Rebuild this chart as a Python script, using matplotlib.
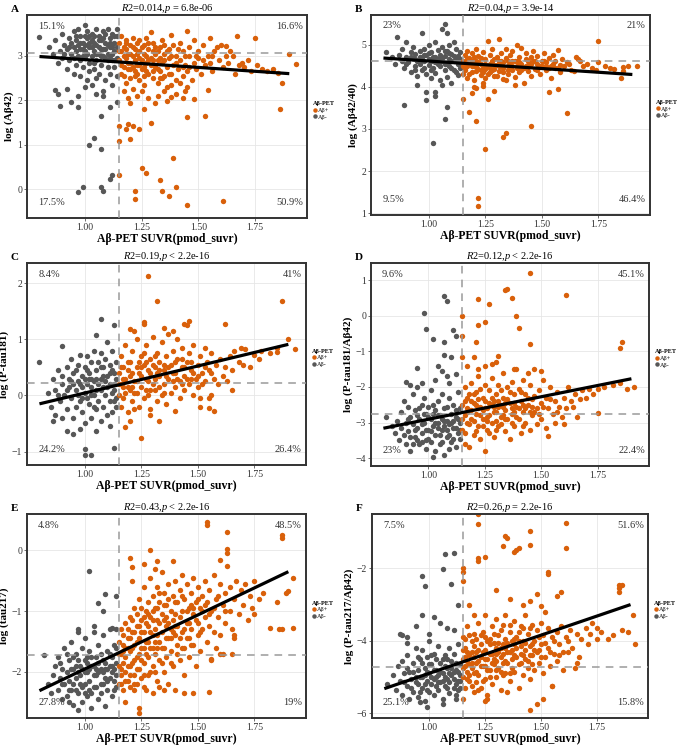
import numpy as np
import matplotlib
matplotlib.use("Agg")
import matplotlib.pyplot as plt
from matplotlib.lines import Line2D

plt.rcParams['font.family'] = ['Liberation Serif', 'DejaVu Serif']
plt.rcParams['mathtext.fontset'] = 'custom'
plt.rcParams['mathtext.rm'] = 'Liberation Serif'
plt.rcParams['mathtext.it'] = 'Liberation Serif:italic'

# ---------------- data ----------------
A_neg = [(0.80,3.43),(0.84,3.2),(0.86,3.05),(0.87,3.35),(0.88,2.85),(0.89,3.1),(0.90,3.5),(0.90,2.95),(0.91,3.25),(0.92,2.7),(0.92,3.15),(0.93,3.4),(0.93,2.9),(0.94,3.05),(0.95,3.55),(0.95,2.6),(0.95,3.2),(0.96,2.8),(0.96,3.35),(0.97,3.0),(0.97,3.6),(0.98,2.55),(0.98,3.15),(0.98,3.45),(0.99,2.75),(0.99,3.3),(1.00,3.7),(1.00,2.95),(1.00,3.1),(1.01,2.45),(1.01,3.4),(1.01,3.55),(1.02,2.65),(1.02,3.2),(1.02,2.85),(1.03,3.0),(1.03,3.5),(1.03,2.35),(1.04,3.3),(1.04,2.7),(1.04,3.1),(1.05,2.5),(1.05,3.6),(1.05,2.9),(1.06,3.2),(1.06,3.45),(1.06,2.6),(1.07,3.0),(1.07,2.8),(1.07,3.35),(1.08,2.2),(1.08,3.15),(1.08,3.55),(1.09,2.95),(1.09,2.45),(1.09,3.3),(1.10,2.75),(1.10,3.6),(1.10,3.05),(1.11,3.4),(1.11,2.6),(1.11,3.2),(1.12,2.9),(1.12,3.5),(1.12,2.35),(1.13,3.1),(1.13,2.75),(1.13,3.3),(1.14,2.95),(1.14,3.45),(1.14,2.55),(1.14,3.6),(1.00,3.25),(0.97,3.25),(1.03,3.35),(1.06,3.05),(1.09,3.15),(1.12,3.05),(0.94,3.3),(0.99,3.0),(1.02,3.45),(1.05,3.25),(1.08,3.4),(1.11,3.0),(1.13,2.9),(0.96,3.1),
         (0.91,3.05),(0.93,3.2),(0.95,2.95),(0.96,3.45),(0.98,3.3),(0.99,3.15),(1.00,3.45),(1.01,3.05),(1.02,3.3),(1.03,3.2),(1.04,3.45),(1.05,3.05),(1.06,3.35),(1.07,3.15),(1.08,3.0),(1.09,3.5),(1.10,3.25),(1.11,3.3),(1.12,3.2),(1.13,3.45),(1.14,3.2),(1.10,2.9),(1.04,2.85),(0.98,2.9),
         (0.87,2.23),(0.88,2.14),(0.89,1.87),(0.92,2.25),(0.94,1.97),(0.97,1.86),(0.97,2.1),(1.00,2.3),(1.02,1.0),(1.04,1.14),(1.07,1.65),(1.07,0.9),(0.97,-0.07),(0.99,0.04),(1.07,0.05),(1.08,-0.05),(1.11,0.22),(1.12,0.31),(1.14,1.97),(1.08,2.1),(1.05,2.15),(1.11,1.85)]
A_pos = [(1.15,3.3),(1.15,2.9),(1.16,3.1),(1.16,2.6),(1.16,3.45),(1.17,2.75),(1.17,3.2),(1.18,2.95),(1.18,2.4),(1.18,3.35),(1.19,3.05),(1.19,2.7),(1.20,3.25),(1.20,2.5),(1.20,2.85),(1.21,3.4),(1.21,3.0),(1.22,2.65),(1.22,3.15),(1.23,2.8),(1.23,3.3),(1.24,2.45),(1.24,2.95),(1.25,3.2),(1.25,2.7),(1.26,3.05),(1.26,2.35),(1.27,3.4),(1.27,2.85),(1.28,2.6),(1.28,3.15),(1.29,2.95),(1.29,3.53),(1.30,2.5),(1.30,3.3),(1.31,2.75),(1.31,3.05),(1.32,2.4),(1.32,2.9),(1.33,3.2),(1.33,2.65),(1.34,3.35),(1.34,2.85),(1.35,2.55),(1.35,3.05),(1.36,2.3),(1.36,2.75),(1.37,3.15),(1.37,2.95),(1.38,2.6),(1.38,3.47),(1.39,2.8),(1.39,3.25),(1.40,2.45),(1.40,3.0),(1.41,2.7),(1.42,3.3),(1.42,2.9),(1.43,2.55),(1.43,3.1),(1.44,2.8),(1.45,3.56),(1.45,2.65),(1.46,3.0),(1.46,3.2),(1.47,2.45),(1.48,2.85),(1.48,3.35),(1.49,2.7),(1.50,3.1),(1.50,2.95),(1.51,2.6),(1.52,3.25),(1.53,2.8),(1.54,3.0),(1.55,2.85),(1.55,3.4),(1.56,2.65),(1.57,3.1),(1.58,3.2),(1.59,2.9),(1.60,3.25),(1.61,2.75),(1.62,3.0),(1.62,3.22),(1.63,2.85),(1.64,3.1),(1.65,3.0),(1.66,2.6),(1.67,3.44),(1.68,2.8),(1.69,2.85),(1.70,2.75),(1.72,2.9),(1.73,2.65),(1.75,3.4),(1.76,2.8),(1.78,2.7),(1.80,2.65),(1.83,2.7),(1.85,2.62),(1.87,2.4),(1.86,1.81),(1.90,3.05),(1.93,2.81),(1.17,3.0),(1.19,2.85),(1.21,2.75),(1.23,3.05),(1.25,2.9),(1.27,3.0),(1.29,2.8),(1.31,3.2),(1.33,2.95),(1.35,2.9),(1.24,3.35),(1.22,2.55),(1.26,2.55),(1.30,2.65),(1.34,2.5),(1.38,2.35),(1.42,2.4),(1.45,2.3),(1.16,2.8),(1.18,3.15),(1.20,3.05),(1.22,2.9),(1.24,3.1),(1.26,2.75),(1.28,2.9),(1.30,3.1),(1.32,2.7),(1.36,3.1),(1.40,2.85),(1.44,3.0),
         (1.15,3.1),(1.17,2.55),(1.18,3.3),(1.20,2.7),(1.21,3.2),(1.23,2.6),(1.24,2.8),(1.26,3.25),(1.27,2.65),(1.28,3.3),(1.30,2.9),(1.32,3.1),(1.33,2.5),(1.35,3.25),(1.37,2.6),(1.38,3.0),(1.41,3.15),(1.43,2.75),(1.46,2.75),(1.49,3.0),(1.52,2.9),(1.56,3.0),
         (1.15,1.41),(1.15,1.09),(1.15,0.31),(1.18,1.35),(1.19,1.47),(1.20,1.12),(1.21,1.41),(1.24,1.35),(1.22,-0.04),(1.22,-0.23),(1.25,0.47),(1.27,0.37),(1.26,1.81),(1.29,1.48),(1.33,0.2),(1.34,-0.04),(1.37,-0.16),(1.39,0.7),(1.40,0.05),(1.45,-0.36),(1.61,-0.26),(1.45,1.62),(1.53,1.65),(1.48,2.04),(1.54,2.23),(1.20,1.93),(1.21,2.25),(1.23,2.1),(1.25,2.2),(1.28,2.05),(1.31,1.95),(1.32,2.1),(1.35,2.2),(1.36,1.98),(1.38,2.08),(1.40,2.15),(1.43,2.05),(1.44,2.2),(1.17,2.2),(1.19,2.05)]

B_neg = [(0.81,4.82),(0.84,4.7),(0.85,4.55),(0.86,5.18),(0.87,4.75),(0.88,4.62),(0.88,4.9),(0.89,4.45),(0.90,4.7),(0.90,5.05),(0.91,4.58),(0.92,4.82),(0.92,4.35),(0.93,4.68),(0.93,4.95),(0.94,4.5),(0.94,4.78),(0.95,4.62),(0.95,4.25),(0.96,4.85),(0.96,4.55),(0.97,5.28),(0.97,4.7),(0.97,4.4),(0.98,4.9),(0.98,4.6),(0.99,4.3),(0.99,4.75),(1.00,4.52),(1.00,4.98),(1.00,4.65),(1.01,4.2),(1.01,4.82),(1.02,4.45),(1.02,4.7),(1.03,5.05),(1.03,4.58),(1.03,4.32),(1.04,4.88),(1.04,4.65),(1.05,4.48),(1.05,4.75),(1.05,4.15),(1.06,5.37),(1.06,4.6),(1.06,4.95),(1.07,5.48),(1.07,4.4),(1.07,4.72),(1.08,4.55),(1.08,4.85),(1.08,4.22),(1.09,4.65),(1.09,5.0),(1.10,4.45),(1.10,4.78),(1.10,4.1),(1.11,4.6),(1.11,5.05),(1.12,4.35),(1.12,4.7),(1.12,4.9),(1.13,4.55),(1.13,4.28),(1.14,4.82),(1.14,4.45),(1.14,4.65),(1.08,5.28),(1.01,4.6),(0.96,4.7),(1.04,4.55),(1.09,4.5),(1.12,4.6),(0.98,4.75),(1.02,4.62),(1.06,4.68),(1.11,4.72),(0.94,4.65),
         (0.90,4.55),(0.92,4.7),(0.94,4.4),(0.96,4.6),(0.98,4.45),(1.00,4.8),(1.01,4.4),(1.03,4.7),(1.05,4.6),(1.07,4.55),(1.09,4.8),(1.10,4.62),(1.13,4.72),(1.14,4.55),(1.11,4.4),(1.07,4.85),
         (0.89,3.57),(0.99,3.87),(0.99,3.68),(1.03,3.88),(1.03,3.77),(1.08,3.51),(1.07,3.24),(1.02,2.66),(0.95,4.05),(1.06,4.05)]
B_pos = [(1.15,4.6),(1.15,4.3),(1.16,4.75),(1.16,4.45),(1.17,4.85),(1.17,4.2),(1.18,4.55),(1.18,4.68),(1.19,4.35),(1.19,4.8),(1.20,4.5),(1.20,4.15),(1.21,4.62),(1.21,4.9),(1.22,4.42),(1.22,4.72),(1.23,4.28),(1.23,4.55),(1.24,4.82),(1.24,4.45),(1.25,4.65),(1.25,4.2),(1.26,5.08),(1.26,4.5),(1.27,4.75),(1.27,4.35),(1.28,4.6),(1.28,4.9),(1.29,4.42),(1.29,4.25),(1.30,4.7),(1.30,4.52),(1.31,5.14),(1.31,4.38),(1.32,4.8),(1.32,4.6),(1.33,4.45),(1.33,4.18),(1.34,4.68),(1.34,4.9),(1.35,4.5),(1.35,4.3),(1.36,4.75),(1.36,4.58),(1.37,4.4),(1.37,4.85),(1.38,4.62),(1.38,4.22),(1.39,5.0),(1.39,4.5),(1.40,4.7),(1.40,4.35),(1.41,4.92),(1.41,4.55),(1.42,4.45),(1.42,4.1),(1.43,4.65),(1.43,4.8),(1.44,4.38),(1.44,4.52),(1.45,4.7),(1.45,4.25),(1.46,4.6),(1.46,4.85),(1.47,4.42),(1.48,4.55),(1.48,4.72),(1.49,4.3),(1.50,4.62),(1.50,4.48),(1.51,4.8),(1.52,4.4),(1.52,4.58),(1.53,4.68),(1.54,4.2),(1.54,4.5),(1.55,4.75),(1.56,4.45),(1.56,4.6),(1.57,4.88),(1.58,4.52),(1.58,4.35),(1.59,4.65),(1.60,4.48),(1.61,4.58),(1.62,4.55),(1.63,4.4),(1.64,4.38),(1.65,4.7),(1.66,4.65),(1.67,4.6),(1.68,4.5),(1.70,4.55),(1.72,4.45),(1.74,4.4),(1.75,5.08),(1.75,4.58),(1.78,4.5),(1.80,4.45),(1.82,4.42),(1.85,4.21),(1.86,4.47),(1.86,4.38),(1.88,4.5),(1.92,4.48),(1.17,4.5),(1.19,4.62),(1.21,4.38),(1.23,4.68),(1.25,4.42),(1.27,4.55),(1.29,4.65),(1.31,4.48),(1.33,4.58),(1.35,4.4),(1.37,4.62),(1.39,4.45),(1.26,4.3),(1.30,4.25),(1.34,4.15),(1.38,4.05),(1.24,4.1),(1.16,4.4),(1.18,4.3),(1.20,4.7),(1.22,4.58),(1.24,4.35),(1.28,4.4),(1.32,4.5),(1.36,4.45),(1.40,4.58),(1.44,4.62),(1.48,4.4),(1.52,4.5),
         (1.15,4.5),(1.17,4.65),(1.19,4.5),(1.21,4.48),(1.23,4.4),(1.25,4.55),(1.27,4.45),(1.29,4.52),(1.31,4.6),(1.33,4.35),(1.35,4.62),(1.37,4.5),(1.39,4.6),(1.41,4.4),(1.43,4.5),(1.45,4.55),(1.47,4.6),(1.49,4.5),(1.51,4.6),(1.53,4.45),(1.55,4.55),(1.57,4.45),
         (1.15,3.70),(1.18,3.40),(1.21,3.19),(1.22,1.36),(1.22,1.18),(1.25,2.52),(1.26,3.72),(1.33,2.81),(1.34,2.9),(1.45,3.06),(1.53,3.88),(1.57,3.94),(1.61,3.37),(1.19,3.84),(1.21,3.98),(1.20,4.0),(1.24,4.02),(1.29,3.9)]

C_neg = [(0.80,0.59),(0.84,0.05),(0.85,-0.2),(0.86,0.3),(0.87,-0.35),(0.87,0.1),(0.88,0.45),(0.89,-0.1),(0.90,0.88),(0.90,0.2),(0.90,-0.4),(0.91,0.0),(0.92,0.5),(0.92,-0.25),(0.93,0.3),(0.93,0.15),(0.94,-0.05),(0.94,0.65),(0.95,-0.4),(0.95,0.4),(0.96,0.1),(0.96,-0.2),(0.97,0.55),(0.97,0.25),(0.98,-0.1),(0.98,0.72),(0.99,0.35),(0.99,-0.3),(1.00,0.05),(1.00,0.5),(1.00,-0.5),(1.01,0.2),(1.01,0.7),(1.02,-0.15),(1.02,0.4),(1.03,0.0),(1.03,0.6),(1.03,-0.4),(1.04,0.25),(1.04,0.8),(1.05,-0.25),(1.05,0.45),(1.05,0.1),(1.06,0.6),(1.06,-0.1),(1.07,0.3),(1.07,-0.45),(1.07,0.75),(1.08,0.15),(1.08,-0.2),(1.08,0.5),(1.09,0.0),(1.09,0.65),(1.10,-0.35),(1.10,0.35),(1.10,0.95),(1.11,0.2),(1.11,-0.1),(1.11,0.55),(1.12,0.05),(1.12,0.8),(1.12,-0.3),(1.13,0.4),(1.13,0.1),(1.14,-0.2),(1.14,0.6),(1.14,0.3),(1.14,-0.05),(0.97,0.0),(1.01,-0.05),(1.04,0.0),(1.06,0.2),(1.09,0.25),(1.13,0.2),(1.02,0.3),(0.99,0.15),(0.95,0.2),(1.03,0.15),(1.07,0.1),(1.11,0.4),
         (0.88,0.0),(0.90,0.35),(0.92,0.1),(0.94,0.25),(0.96,0.45),(0.98,0.2),(1.00,0.3),(1.01,0.45),(1.03,0.3),(1.05,0.3),(1.07,0.5),(1.08,0.35),(1.10,0.15),(1.12,0.45),(1.13,-0.1),(1.04,-0.2),(0.99,-0.05),
         (1.07,1.37),(1.13,1.26),(1.05,1.08),(0.92,-0.63),(0.95,-0.68),(1.00,-0.96),(1.00,-1.07),(1.03,-1.07),(1.13,-0.93),(1.05,-0.64),(0.86,-0.45),(0.98,-0.6),(1.11,-0.55)]
C_pos = [(1.15,0.0),(1.15,0.4),(1.16,0.2),(1.16,-0.2),(1.16,0.7),(1.17,0.5),(1.17,-0.05),(1.18,0.3),(1.18,0.9),(1.19,-0.3),(1.19,0.15),(1.20,0.6),(1.20,0.35),(1.21,-0.1),(1.21,0.8),(1.22,0.25),(1.22,0.05),(1.23,0.5),(1.23,1.0),(1.24,-0.2),(1.24,0.4),(1.25,0.7),(1.25,0.15),(1.26,-0.05),(1.26,0.55),(1.27,0.3),(1.27,0.9),(1.28,0.0),(1.28,0.45),(1.29,0.65),(1.29,-0.25),(1.30,0.2),(1.30,1.05),(1.31,0.5),(1.31,0.1),(1.32,0.75),(1.32,-0.1),(1.33,0.35),(1.33,0.6),(1.34,0.0),(1.34,0.95),(1.35,0.45),(1.35,0.2),(1.36,0.7),(1.36,-0.15),(1.37,0.3),(1.37,1.1),(1.38,0.55),(1.38,0.05),(1.39,0.8),(1.40,0.4),(1.40,0.15),(1.41,0.65),(1.41,1.0),(1.42,0.25),(1.42,-0.05),(1.43,0.5),(1.43,0.85),(1.44,0.1),(1.44,0.35),(1.45,0.6),(1.45,1.25),(1.46,0.2),(1.46,0.75),(1.47,0.45),(1.48,0.0),(1.48,0.9),(1.49,0.3),(1.50,0.55),(1.50,0.15),(1.51,0.7),(1.51,-0.05),(1.52,0.4),(1.53,0.85),(1.53,0.25),(1.54,0.6),(1.55,-0.05),(1.55,0.45),(1.56,0.0),(1.56,0.75),(1.57,-0.27),(1.57,0.3),(1.58,0.55),(1.59,0.2),(1.60,0.65),(1.61,0.35),(1.62,1.27),(1.62,0.5),(1.63,0.25),(1.64,0.7),(1.65,0.1),(1.65,0.45),(1.66,0.8),(1.68,0.6),(1.69,0.85),(1.70,0.55),(1.71,0.82),(1.73,0.5),(1.75,0.72),(1.77,0.65),(1.78,0.8),(1.82,0.75),(1.85,0.85),(1.85,0.77),(1.87,1.68),(1.90,1.0),(1.93,0.83),(1.17,0.3),(1.19,0.45),(1.21,0.15),(1.23,0.25),(1.25,0.35),(1.27,0.1),(1.29,0.4),(1.31,0.3),(1.33,0.15),(1.35,0.55),(1.39,0.25),(1.43,0.2),(1.47,0.3),(1.18,0.05),(1.22,-0.25),(1.26,0.75),(1.30,0.55),(1.16,0.5),(1.20,0.1),(1.24,0.6),(1.28,0.25),(1.32,0.4),(1.36,0.35),(1.40,0.6),(1.44,0.5),(1.48,0.4),(1.52,0.2),
         (1.15,0.2),(1.17,0.15),(1.19,0.6),(1.21,0.4),(1.23,0.05),(1.25,0.5),(1.27,0.6),(1.29,0.1),(1.31,0.7),(1.33,0.45),(1.35,0.05),(1.37,0.5),(1.39,0.4),(1.41,0.3),(1.43,0.65),(1.45,0.3),(1.47,0.6),(1.50,0.35),(1.53,0.5),(1.56,0.4),
         (1.28,2.13),(1.32,1.68),(1.26,1.31),(1.26,1.27),(1.20,1.18),(1.22,1.15),(1.46,1.33),(1.44,1.28),(1.25,-0.76),(1.18,-0.57),(1.33,-0.46),(1.40,-0.28),(1.55,-0.23),(1.51,-0.2),(1.20,-0.45),(1.29,-0.35),(1.35,1.2),(1.39,1.15)]

D_neg = [(0.81,-2.85),(0.84,-3.1),(0.85,-3.3),(0.86,-2.95),(0.87,-3.5),(0.88,-2.7),(0.88,-3.15),(0.89,-2.4),(0.90,-3.0),(0.90,-3.6),(0.91,-2.55),(0.91,-3.25),(0.92,-2.85),(0.92,-3.8),(0.93,-2.2),(0.93,-3.05),(0.94,-3.4),(0.94,-2.65),(0.95,-3.15),(0.95,-2.0),(0.96,-2.9),(0.96,-3.6),(0.97,-2.5),(0.97,-3.3),(0.98,-3.0),(0.98,-2.3),(0.99,-3.75),(0.99,-2.75),(1.00,-3.2),(1.00,-2.55),(1.00,-3.45),(1.01,-2.9),(1.01,-2.1),(1.02,-3.1),(1.02,-3.97),(1.03,-2.65),(1.03,-3.35),(1.04,-2.4),(1.04,-3.0),(1.05,-3.6),(1.05,-2.8),(1.06,-3.2),(1.06,-2.2),(1.07,-2.95),(1.07,-3.9),(1.08,-2.55),(1.08,-3.4),(1.09,-3.05),(1.09,-2.3),(1.10,-2.75),(1.10,-3.55),(1.11,-3.15),(1.11,-2.5),(1.12,-2.85),(1.12,-3.7),(1.13,-3.3),(1.13,-2.15),(1.14,-2.6),(1.14,-3.0),(1.14,-3.45),(0.97,-3.05),(1.01,-3.25),(1.04,-3.15),(1.06,-2.9),(1.08,-3.2),(1.11,-2.95),(1.02,-2.75),(0.99,-3.5),(0.93,-3.6),(1.09,-3.75),(0.95,-2.8),(1.03,-3.0),(1.07,-3.1),(1.12,-3.15),
         (0.89,-3.35),(0.91,-2.9),(0.92,-3.4),(0.94,-3.2),(0.95,-3.5),(0.96,-2.6),(0.97,-3.55),(0.98,-2.75),(0.99,-3.2),(1.00,-2.85),(1.01,-3.55),(1.02,-2.5),(1.03,-3.8),(1.04,-2.8),(1.05,-3.35),(1.06,-3.55),(1.07,-2.6),(1.08,-2.95),(1.09,-3.35),(1.10,-3.0),(1.11,-3.45),(1.12,-2.65),(1.13,-2.9),(1.14,-3.2),
         (0.98,0.09),(0.99,-0.36),(1.02,-0.64),(1.07,0.55),(1.08,0.41),(1.11,-0.4),(1.12,-0.57),(1.07,-0.74),(1.07,-1.11),(1.10,-1.17),(0.95,-1.47),(1.04,-1.42),(1.06,-1.55),(1.08,-1.7),(1.09,-1.9),(0.90,-1.85),(0.92,-1.95),(0.97,-1.9),(1.03,-1.8),(1.12,-1.65)]
D_pos = [(1.15,-2.5),(1.15,-3.2),(1.16,-2.0),(1.16,-2.8),(1.16,-3.6),(1.17,-2.3),(1.17,-3.0),(1.18,-2.65),(1.18,-3.7),(1.19,-1.9),(1.19,-2.9),(1.20,-2.45),(1.20,-3.35),(1.21,-2.15),(1.21,-2.75),(1.22,-3.1),(1.22,-1.7),(1.23,-2.55),(1.23,-3.45),(1.24,-2.3),(1.24,-2.9),(1.25,-1.95),(1.25,-3.8),(1.26,-2.6),(1.26,-3.2),(1.27,-2.1),(1.27,-2.8),(1.28,-1.75),(1.28,-3.0),(1.29,-2.4),(1.29,-3.4),(1.30,-2.2),(1.30,-2.7),(1.31,-1.95),(1.31,-3.1),(1.32,-2.5),(1.32,-2.85),(1.33,-1.6),(1.33,-2.3),(1.34,-3.25),(1.34,-2.65),(1.35,-2.0),(1.35,-2.9),(1.36,-2.45),(1.36,-3.45),(1.37,-1.85),(1.37,-2.75),(1.38,-2.2),(1.38,-3.1),(1.39,-1.5),(1.39,-2.55),(1.40,-2.9),(1.40,-2.05),(1.41,-3.3),(1.41,-2.4),(1.42,-1.8),(1.42,-2.7),(1.43,-2.2),(1.43,-3.0),(1.44,-2.5),(1.45,-1.95),(1.45,-3.2),(1.46,-2.35),(1.46,-2.8),(1.47,-1.5),(1.48,-2.6),(1.48,-3.05),(1.49,-2.1),(1.50,-2.45),(1.50,-2.9),(1.51,-1.8),(1.52,-2.3),(1.52,-3.15),(1.53,-2.6),(1.53,-3.38),(1.54,-2.0),(1.55,-2.75),(1.56,-2.4),(1.56,-3.0),(1.57,-2.15),(1.58,-2.55),(1.59,-2.85),(1.60,-2.3),(1.60,-3.05),(1.61,-2.6),(1.62,-2.0),(1.63,-2.4),(1.64,-2.55),(1.65,-2.2),(1.66,-2.84),(1.67,-2.35),(1.68,-2.1),(1.70,-2.3),(1.71,-2.05),(1.73,-2.2),(1.75,-2.72),(1.75,-2.05),(1.78,-2.0),(1.82,-1.95),(1.85,-1.9),(1.88,-2.06),(1.91,-1.99),(1.17,-2.6),(1.19,-2.4),(1.21,-2.5),(1.23,-2.8),(1.25,-2.6),(1.27,-2.45),(1.29,-2.7),(1.31,-2.55),(1.33,-2.8),(1.35,-2.35),(1.37,-2.6),(1.39,-2.85),(1.43,-2.6),(1.47,-2.7),(1.20,-2.95),(1.26,-2.95),(1.32,-3.05),(1.44,-1.6),(1.50,-1.55),(1.16,-2.4),(1.18,-2.2),(1.22,-2.35),(1.24,-2.65),(1.28,-2.5),(1.30,-2.95),(1.34,-2.45),(1.38,-2.7),(1.42,-2.5),(1.46,-2.55),
         (1.15,-2.9),(1.16,-3.3),(1.17,-2.7),(1.18,-3.05),(1.19,-2.65),(1.20,-2.2),(1.21,-3.25),(1.22,-2.6),(1.23,-2.05),(1.24,-3.1),(1.25,-2.4),(1.26,-2.85),(1.27,-3.3),(1.28,-2.3),(1.29,-2.55),(1.30,-3.2),(1.31,-2.4),(1.32,-2.1),(1.33,-2.55),(1.34,-2.9),(1.36,-2.15),(1.37,-3.0),(1.38,-2.45),(1.40,-2.6),(1.41,-2.15),(1.42,-3.1),(1.44,-2.3),(1.45,-2.7),(1.47,-2.25),(1.49,-2.75),(1.51,-2.55),(1.54,-2.35),(1.57,-2.7),
         (1.45,1.19),(1.34,0.72),(1.35,0.74),(1.37,0.5),(1.22,0.46),(1.27,0.32),(1.15,0.0),(1.39,0.0),(1.22,-0.27),(1.25,-0.18),(1.40,-0.34),(1.15,-0.57),(1.15,-1.17),(1.21,-0.74),(1.45,-0.79),(1.61,0.58),(1.86,-0.74),(1.85,-0.92),(1.31,-1.12),(1.30,-1.3),(1.28,-1.35),(1.20,-1.15),(1.22,-1.5),(1.25,-1.4),(1.38,-1.5),(1.17,-1.4)]

E_neg = [(0.82,-1.72),(0.84,-2.2),(0.85,-2.35),(0.86,-2.05),(0.87,-1.9),(0.88,-2.3),(0.88,-1.75),(0.89,-2.1),(0.90,-2.45),(0.90,-1.95),(0.91,-1.6),(0.91,-2.2),(0.92,-2.0),(0.92,-2.4),(0.93,-1.8),(0.93,-2.15),(0.94,-1.5),(0.94,-2.3),(0.95,-1.95),(0.95,-2.55),(0.96,-1.7),(0.96,-2.1),(0.97,-1.35),(0.97,-2.35),(0.98,-1.9),(0.98,-2.05),(0.99,-1.6),(0.99,-2.5),(1.00,-2.2),(1.00,-1.8),(1.00,-1.45),(1.01,-2.0),(1.01,-2.4),(1.02,-1.65),(1.02,-2.15),(1.03,-1.9),(1.03,-2.6),(1.04,-1.35),(1.04,-2.25),(1.05,-1.75),(1.05,-2.05),(1.06,-1.55),(1.06,-2.45),(1.07,-1.95),(1.07,-2.2),(1.08,-1.4),(1.08,-1.8),(1.09,-2.1),(1.09,-2.57),(1.10,-1.65),(1.10,-2.3),(1.11,-1.9),(1.11,-1.3),(1.12,-2.0),(1.12,-2.4),(1.13,-1.55),(1.13,-2.15),(1.14,-1.85),(1.14,-1.3),(1.14,-2.25),(0.97,-2.0),(1.00,-2.0),(1.02,-1.95),(1.04,-2.05),(1.06,-1.85),(1.08,-2.0),(1.10,-1.95),(1.12,-1.75),(0.95,-2.2),(0.99,-2.25),(1.03,-2.35),(1.07,-2.35),(1.11,-2.1),(0.93,-2.5),(0.97,-2.62),(0.96,-1.9),(1.01,-1.75),(1.05,-1.95),(1.09,-1.85),(1.13,-1.95),
         (0.89,-1.85),(0.90,-2.2),(0.92,-1.7),(0.93,-2.3),(0.94,-1.95),(0.95,-1.75),(0.96,-2.3),(0.97,-1.8),(0.98,-2.2),(0.99,-1.95),(1.00,-2.35),(1.01,-1.85),(1.02,-2.3),(1.03,-1.75),(1.04,-1.9),(1.05,-2.25),(1.06,-2.0),(1.07,-1.7),(1.08,-2.2),(1.09,-1.95),(1.10,-2.15),(1.11,-1.7),(1.12,-1.9),(1.13,-2.3),(1.14,-2.05),(1.14,-1.6),
         (1.02,-0.34),(1.09,-0.72),(1.06,-0.87),(1.14,-0.75),(1.08,-1.0),(1.12,-1.28),(1.04,-1.25),(0.97,-1.3)]
E_pos = [(1.15,-1.5),(1.15,-1.9),(1.15,-2.2),(1.16,-1.7),(1.16,-1.3),(1.16,-2.05),(1.17,-1.85),(1.17,-2.3),(1.17,-1.55),(1.18,-1.2),(1.18,-2.0),(1.18,-1.75),(1.19,-1.45),(1.19,-2.15),(1.19,-1.9),(1.20,-1.1),(1.20,-1.65),(1.20,-2.25),(1.21,-1.35),(1.21,-1.85),(1.21,-0.5),(1.22,-1.55),(1.22,-2.05),(1.22,-0.95),(1.23,-1.25),(1.23,-1.75),(1.23,-2.2),(1.24,-0.8),(1.24,-1.45),(1.24,-1.95),(1.25,-1.15),(1.25,-1.6),(1.25,-2.1),(1.26,-0.6),(1.26,-1.35),(1.26,-1.85),(1.27,-1.0),(1.27,-1.5),(1.27,-2.3),(1.28,-0.85),(1.28,-1.25),(1.28,-1.75),(1.29,-0.45),(1.29,-1.1),(1.29,-1.6),(1.29,-2.0),(1.30,-0.75),(1.30,-1.4),(1.30,-1.9),(1.31,-0.95),(1.31,-1.3),(1.31,-1.7),(1.32,-0.6),(1.32,-1.15),(1.32,-2.15),(1.33,-0.85),(1.33,-1.5),(1.33,-1.8),(1.34,-1.05),(1.34,-1.35),(1.34,-0.35),(1.35,-0.7),(1.35,-1.6),(1.35,-2.0),(1.36,-0.9),(1.36,-1.25),(1.36,-1.75),(1.37,-0.55),(1.37,-1.45),(1.37,-2.2),(1.38,-1.0),(1.38,-1.3),(1.38,-1.65),(1.39,-0.75),(1.39,-1.15),(1.39,-1.9),(1.40,-0.5),(1.40,-1.4),(1.40,-1.05),(1.41,-0.85),(1.41,-1.55),(1.41,-1.25),(1.42,-0.65),(1.42,-1.8),(1.43,-1.0),(1.43,-1.35),(1.43,-0.4),(1.44,-0.8),(1.44,-1.6),(1.44,-2.05),(1.45,-1.2),(1.45,-0.55),(1.45,-1.45),(1.46,-0.95),(1.46,-1.75),(1.47,-0.7),(1.47,-1.3),(1.48,-1.05),(1.48,-1.55),(1.48,-0.45),(1.49,-0.85),(1.49,-1.9),(1.50,-1.2),(1.50,-0.6),(1.50,-1.4),(1.51,-0.95),(1.51,-1.65),(1.52,-0.75),(1.52,-1.3),(1.53,-0.5),(1.53,-1.1),(1.54,-0.85),(1.54,-1.5),(1.55,-0.65),(1.55,-1.25),(1.56,-1.0),(1.56,-1.8),(1.57,-0.4),(1.57,-1.35),(1.58,-0.8),(1.58,-1.6),(1.59,-1.1),(1.60,-0.55),(1.60,-1.4),(1.61,-0.9),(1.61,-1.7),(1.62,-0.7),(1.62,-1.2),(1.63,-0.25),(1.64,-1.0),(1.64,-0.6),(1.65,-1.3),(1.66,-0.8),(1.66,-1.4),(1.66,-1.45),(1.67,-0.5),(1.68,-1.05),(1.69,-0.65),(1.70,-0.9),(1.71,-0.55),(1.72,-1.15),(1.73,-0.75),(1.74,-0.95),(1.75,-0.5),(1.75,-1.05),(1.77,-0.8),(1.79,-0.7),(1.82,-1.28),(1.85,-0.85),(1.86,-1.29),(1.87,-1.3),(1.87,0.2),(1.87,0.25),(1.89,-0.7),(1.90,-0.67),(1.92,-0.45),(1.92,-1.28),
         (1.16,-1.95),(1.17,-1.65),(1.18,-2.15),(1.19,-1.6),(1.20,-1.9),(1.21,-1.6),(1.22,-1.8),(1.23,-1.5),(1.24,-1.7),(1.25,-1.35),(1.26,-1.6),(1.27,-1.2),(1.28,-1.5),(1.30,-1.15),(1.32,-1.4),(1.34,-1.6),(1.36,-1.1),(1.38,-1.45),(1.40,-1.25),(1.42,-1.1),(1.44,-1.3),(1.46,-1.2),(1.48,-0.95),(1.52,-1.0),
         (1.15,-1.7),(1.16,-2.2),(1.17,-1.4),(1.18,-1.6),(1.19,-1.3),(1.20,-1.45),(1.20,-2.05),(1.21,-1.15),(1.22,-1.35),(1.22,-2.2),(1.23,-1.05),(1.23,-1.95),(1.24,-1.25),(1.25,-1.8),(1.25,-0.95),(1.26,-1.1),(1.26,-2.05),(1.27,-1.7),(1.28,-1.05),(1.28,-2.05),(1.29,-1.35),(1.30,-1.0),(1.30,-1.6),(1.31,-1.5),(1.31,-2.0),(1.32,-0.95),(1.32,-1.6),(1.33,-1.2),(1.33,-0.7),(1.34,-1.85),(1.35,-1.15),(1.35,-0.9),(1.36,-1.45),(1.37,-0.8),(1.37,-1.2),(1.38,-1.85),(1.39,-1.35),(1.40,-0.85),(1.41,-1.7),(1.42,-1.45),(1.43,-0.75),(1.43,-1.6),(1.45,-1.0),(1.46,-1.45),(1.47,-0.9),(1.47,-1.55),(1.49,-1.15),(1.50,-0.8),(1.51,-1.35),(1.53,-0.9),(1.55,-1.05),(1.57,-0.95),(1.59,-0.75),(1.62,-1.0),
         (1.54,0.42),(1.54,0.47),(1.63,0.3),(1.63,0.02),(1.63,-0.05),(1.29,0.0),(1.20,-0.12),(1.21,-0.28),(1.26,-0.22),(1.32,-0.18),(1.39,-0.17),(1.31,-0.3),(1.60,-0.15),(1.24,-2.6),(1.24,-2.67),(1.30,-2.35),(1.35,-2.3),(1.40,-2.3),(1.44,-2.35),(1.48,-2.35),(1.55,-2.33),(1.22,-2.3),(1.26,-2.25),(1.60,-1.7),(1.56,-1.78),(1.65,-1.7),(1.18,-2.5),(1.33,-2.25)]

F_neg = [(0.81,-5.2),(0.84,-4.95),(0.85,-5.35),(0.86,-4.7),(0.87,-5.1),(0.88,-4.55),(0.88,-5.5),(0.89,-4.9),(0.90,-5.25),(0.90,-4.4),(0.91,-5.6),(0.91,-4.85),(0.92,-5.05),(0.93,-4.6),(0.93,-5.4),(0.94,-4.2),(0.94,-5.15),(0.95,-4.8),(0.95,-5.55),(0.96,-4.5),(0.96,-5.0),(0.97,-5.3),(0.97,-4.25),(0.98,-4.75),(0.98,-5.65),(0.99,-5.1),(0.99,-4.45),(1.00,-4.9),(1.00,-5.4),(1.00,-4.0),(1.01,-5.2),(1.01,-4.65),(1.02,-5.5),(1.02,-4.35),(1.03,-5.0),(1.03,-4.8),(1.04,-5.35),(1.04,-4.15),(1.05,-4.6),(1.05,-5.15),(1.06,-4.9),(1.06,-5.6),(1.07,-4.4),(1.07,-5.25),(1.08,-4.75),(1.08,-5.05),(1.09,-4.2),(1.09,-5.45),(1.10,-4.55),(1.10,-4.95),(1.11,-5.3),(1.11,-4.35),(1.12,-4.8),(1.12,-5.5),(1.13,-4.1),(1.13,-5.1),(1.14,-4.65),(1.14,-4.95),(1.14,-5.3),(0.97,-5.0),(0.99,-4.85),(1.02,-5.05),(1.04,-4.95),(1.06,-5.1),(1.09,-4.9),(1.11,-5.05),(1.13,-4.85),(0.95,-5.2),(1.01,-4.4),(1.07,-4.7),(0.98,-5.2),(1.03,-5.25),(1.08,-5.3),(1.12,-5.2),
         (0.89,-5.15),(0.90,-4.75),(0.92,-5.3),(0.93,-4.85),(0.94,-5.0),(0.95,-4.45),(0.96,-5.4),(0.97,-4.6),(0.98,-4.95),(0.99,-5.35),(1.00,-4.65),(1.01,-5.0),(1.02,-4.8),(1.03,-4.5),(1.04,-5.15),(1.05,-4.85),(1.06,-4.5),(1.07,-5.0),(1.08,-4.5),(1.09,-5.15),(1.10,-4.75),(1.11,-4.85),(1.12,-4.6),(1.13,-5.35),(1.14,-5.1),
         (1.07,-1.6),(1.11,-1.59),(1.06,-2.03),(0.97,-2.21),(0.98,-2.49),(1.10,-2.44),(1.13,-3.01),(0.97,-3.3),(1.02,-3.35),(1.05,-3.5),(0.94,-3.6),(1.08,-3.65),(0.87,-3.8),(0.88,-3.85),(0.90,-3.9),(0.90,-4.05),(0.99,-5.84),(0.96,-5.7),(1.06,-5.75),(1.12,-5.6),(1.00,-3.8),(1.11,-3.7)]
F_pos = [(1.15,-4.5),(1.15,-5.0),(1.15,-3.9),(1.16,-4.7),(1.16,-5.3),(1.16,-4.2),(1.17,-4.85),(1.17,-3.6),(1.18,-4.4),(1.18,-5.1),(1.19,-4.0),(1.19,-4.6),(1.20,-5.4),(1.20,-3.8),(1.20,-4.9),(1.21,-4.3),(1.21,-5.15),(1.22,-3.5),(1.22,-4.55),(1.22,-4.95),(1.23,-4.1),(1.23,-5.3),(1.24,-3.75),(1.24,-4.7),(1.25,-5.05),(1.25,-4.25),(1.25,-3.3),(1.26,-4.5),(1.26,-5.5),(1.27,-3.95),(1.27,-4.8),(1.28,-3.6),(1.28,-4.35),(1.28,-5.2),(1.29,-4.05),(1.29,-4.65),(1.30,-3.4),(1.30,-5.0),(1.30,-4.2),(1.31,-3.85),(1.31,-4.75),(1.32,-4.45),(1.32,-5.35),(1.33,-3.55),(1.33,-4.1),(1.34,-4.9),(1.34,-3.3),(1.35,-4.3),(1.35,-4.6),(1.36,-3.75),(1.36,-5.1),(1.37,-4.0),(1.37,-4.5),(1.38,-3.45),(1.38,-4.85),(1.39,-4.2),(1.39,-3.9),(1.40,-4.65),(1.40,-5.3),(1.41,-3.6),(1.41,-4.35),(1.42,-4.0),(1.42,-4.95),(1.43,-3.3),(1.43,-4.5),(1.44,-3.8),(1.44,-4.75),(1.45,-4.15),(1.45,-5.05),(1.46,-3.55),(1.46,-4.4),(1.47,-4.0),(1.47,-4.8),(1.48,-3.7),(1.48,-4.3),(1.49,-4.6),(1.50,-3.5),(1.50,-4.1),(1.51,-4.9),(1.51,-3.85),(1.52,-4.45),(1.53,-3.65),(1.53,-4.2),(1.54,-4.7),(1.55,-3.9),(1.55,-5.25),(1.56,-4.35),(1.57,-3.75),(1.57,-4.55),(1.58,-4.1),(1.59,-3.6),(1.60,-4.3),(1.60,-4.8),(1.61,-3.9),(1.62,-4.0),(1.63,-3.7),(1.64,-4.2),(1.65,-4.75),(1.66,-4.6),(1.66,-3.8),(1.67,-4.45),(1.68,-3.95),(1.70,-3.65),(1.71,-4.1),(1.72,-3.8),(1.73,-3.5),(1.75,-3.65),(1.75,-3.95),(1.77,-3.75),(1.80,-3.95),(1.82,-3.85),(1.86,-3.7),(1.89,-3.75),(1.91,-3.3),(1.92,-4.1),(1.85,-2.45),(1.85,-2.55),(1.86,-2.45),(1.85,-2.64),
         (1.17,-4.3),(1.19,-4.75),(1.21,-4.6),(1.23,-4.45),(1.25,-4.7),(1.27,-4.35),(1.29,-4.5),(1.31,-4.3),(1.33,-4.6),(1.35,-4.05),(1.37,-4.25),(1.39,-4.45),(1.41,-4.15),(1.43,-4.25),(1.45,-4.4),(1.49,-4.25),(1.18,-4.95),(1.24,-5.1),(1.32,-4.85),(1.36,-4.9),(1.16,-4.45),(1.20,-4.15),(1.26,-4.0),(1.30,-4.55),(1.34,-4.2),(1.38,-4.1),(1.42,-4.4),(1.46,-4.1),
         (1.15,-4.75),(1.15,-4.25),(1.16,-3.95),(1.17,-5.05),(1.17,-4.55),(1.18,-3.85),(1.18,-4.65),(1.19,-4.3),(1.19,-5.25),(1.20,-4.45),(1.21,-3.95),(1.21,-4.85),(1.22,-4.25),(1.22,-5.35),(1.23,-3.85),(1.23,-4.7),(1.24,-4.3),(1.25,-3.9),(1.25,-4.5),(1.26,-4.8),(1.27,-4.1),(1.27,-5.0),(1.28,-4.6),(1.29,-3.8),(1.30,-4.35),(1.30,-4.8),(1.31,-4.05),(1.32,-3.7),(1.32,-4.2),(1.33,-4.35),(1.33,-4.95),(1.34,-3.95),(1.34,-4.55),(1.36,-4.3),(1.36,-3.55),(1.37,-4.75),(1.38,-3.95),(1.38,-4.4),(1.40,-4.0),(1.40,-3.75),(1.41,-4.6),(1.42,-3.65),(1.43,-4.05),(1.44,-4.55),(1.45,-3.65),(1.46,-4.65),(1.47,-4.25),(1.49,-3.9),(1.50,-4.45),(1.52,-4.05),(1.54,-4.3),(1.56,-4.0),(1.58,-4.4),(1.62,-4.3),
         (1.22,-0.5),(1.22,-0.78),(1.61,-0.76),(1.61,-1.45),(1.34,-1.1),(1.35,-1.17),(1.33,-1.38),(1.40,-1.45),(1.39,-1.5),(1.45,-0.97),(1.45,-1.35),(1.38,-1.55),(1.22,-1.71),(1.22,-1.8),(1.25,-1.68),(1.15,-2.0),(1.15,-2.1),(1.15,-2.35),(1.53,-2.09),(1.53,-2.15),(1.59,-2.65),(1.57,-2.75),(1.45,-2.9),(1.52,-3.2),(1.45,-5.91),(1.51,-5.6),(1.48,-5.75),(1.55,-5.25),(1.35,-5.4),(1.25,-5.65),(1.26,-5.6),(1.15,-5.6),(1.30,-2.6),(1.36,-2.85),(1.42,-3.0),(1.48,-2.7),(1.50,-3.05),(1.18,-3.0),(1.20,-3.3)]

panel_letters = ['A', 'B', 'C', 'D', 'E', 'F']
titles = [r'$R2$=0.014,$p$ = 6.8e-06', r'$R2$=0.04,$p$ = 3.9e-14',
          r'$R2$=0.19,$p$ < 2.2e-16', r'$R2$=0.12,$p$ < 2.2e-16',
          r'$R2$=0.43,$p$ < 2.2e-16', r'$R2$=0.26,$p$ = 2.2e-16']
ylabels = ['log (Aβ42)', 'log (Aβ42/40)', 'log (P-tau181)',
           'log (P-tau181/Aβ42)', 'log (tau217)', 'log (P-tau217/Aβ42)']
neg_data = [A_neg, B_neg, C_neg, D_neg, E_neg, F_neg]
pos_data = [A_pos, B_pos, C_pos, D_pos, E_pos, F_pos]
quadrant_pct = [('15.1%', '16.6%', '17.5%', '50.9%'),
                ('23%', '21%', '9.5%', '46.4%'),
                ('8.4%', '41%', '24.2%', '26.4%'),
                ('9.6%', '45.1%', '23%', '22.4%'),
                ('4.8%', '48.5%', '27.8%', '19%'),
                ('7.5%', '51.6%', '25.1%', '15.8%')]
suvr_cut = 1.15
h_cut = [3.07, 4.60, 0.22, -2.76, -1.72, -4.72]
fit_x = [0.80, 1.90]
fit_y = [(2.985, 2.60), (4.68, 4.29), (-0.15, 0.91), (-3.16, -1.77), (-2.31, -0.35), (-5.32, -3.00)]
x_ticks = [1.00, 1.25, 1.50, 1.75]
y_ticks = [[0, 1, 2, 3], [1, 2, 3, 4, 5], [-1, 0, 1, 2], [-4, -3, -2, -1, 0, 1], [-2, -1, 0], [-6, -4, -2]]
y_lims = [(-0.65, 3.92), (0.96, 5.70), (-1.24, 2.36), (-4.22, 1.48), (-2.76, 0.60), (-6.13, -0.50)]
x_lim = (0.745, 1.978)
legend_labels = ['Aβ+', 'Aβ-']

# ---------------- styling ----------------
C_POS = '#D9600A'
C_NEG = '#575757'
W, H = 688, 749
fig = plt.figure(figsize=(W / 100, H / 100), dpi=100)

boxes = [(27, 15, 307, 218), (371, 15, 650, 215),
         (27, 263, 306, 465), (371, 263, 649, 466),
         (27, 514, 306, 718), (372, 514, 648, 718)]

for i, (l, t, r, b) in enumerate(boxes):
    ax = fig.add_axes([l / W, 1 - b / H, (r - l) / W, (b - t) / H])
    neg = np.array(neg_data[i])
    pos = np.array(pos_data[i])
    ax.scatter(neg[:, 0], neg[:, 1], s=15, color=C_NEG, linewidths=0, zorder=2)
    ax.scatter(pos[:, 0], pos[:, 1], s=15, color=C_POS, linewidths=0, zorder=2)
    ax.axvline(suvr_cut, color='#9a9a9a', lw=1.1, ls=(0, (5, 4)), zorder=3)
    ax.axhline(h_cut[i], color='#9a9a9a', lw=1.1, ls=(0, (5, 4)), zorder=3)
    ax.plot(fit_x, fit_y[i], color='black', lw=2.3, solid_capstyle='butt', zorder=4)

    ax.set_xlim(*x_lim)
    ax.set_ylim(*y_lims[i])
    ax.set_xticks(x_ticks)
    ax.set_xticklabels([f'{v:.2f}' for v in x_ticks])
    ax.set_yticks(y_ticks[i])
    ax.grid(True, color='#e6e6e6', lw=0.6, zorder=0)
    ax.set_axisbelow(True)
    ax.tick_params(labelsize=7, length=2, width=0.6, color='#555555', labelcolor='#333333', pad=1.5)
    for sp in ax.spines.values():
        sp.set_color('#333333')
        sp.set_linewidth(1.4)

    ax.set_xlabel('Aβ-PET SUVR(pmod_suvr)', fontsize=8.5, fontweight='bold', labelpad=1)
    ax.set_ylabel(ylabels[i], fontsize=8, fontweight='bold', labelpad=2)
    ax.set_title(titles[i], fontsize=7.5, pad=2.5)
    ax.text(-0.045, 1.005, panel_letters[i], transform=ax.transAxes, fontsize=8,
            fontweight='bold', ha='center', va='bottom')

    tl, tr, bl, br = quadrant_pct[i]
    kw = dict(transform=ax.transAxes, fontsize=7.5, color='#333333', va='center')
    ax.text(0.04, 0.945, tl, ha='left', **kw)
    ax.text(0.985, 0.945, tr, ha='right', **kw)
    ax.text(0.04, 0.075, bl, ha='left', **kw)
    ax.text(0.985, 0.075, br, ha='right', **kw)

    handles = [Line2D([], [], ls='', marker='o', ms=2.2, color=C_POS),
               Line2D([], [], ls='', marker='o', ms=2.2, color=C_NEG)]
    leg = ax.legend(handles, legend_labels, title='Aβ-PET', loc='center left',
                    bbox_to_anchor=(1.005, 0.53), frameon=False, fontsize=4.5,
                    title_fontsize=4.5, handlelength=0.6, handletextpad=0.3,
                    labelspacing=0.2, borderpad=0.2)
    leg.get_title().set_fontweight('bold')
    leg._legend_box.align = 'left'

fig.savefig('out.png', dpi=100)
